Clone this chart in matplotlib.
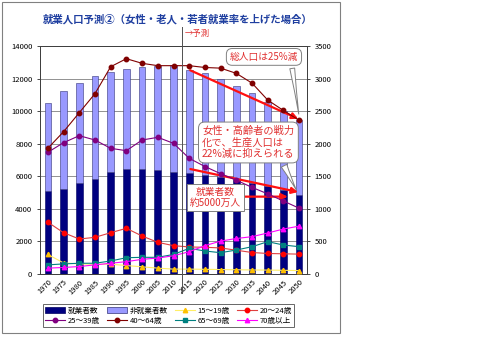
import numpy as np
import matplotlib
matplotlib.use('Agg')
import matplotlib.pyplot as plt
from matplotlib.patches import Rectangle, Patch

plt.rcParams['font.family'] = ['Noto Sans CJK JP', 'DejaVu Sans']

# データ（万人）
years = ['1970', '1975', '1980', '1985', '1990', '1995', '2000', '2005', '2010',
         '2015', '2020', '2025', '2030', '2035', '2040', '2045', '2050']
total = [10500, 11220, 11740, 12130, 12390, 12590, 12700, 12790, 12830,
         12530, 12320, 11970, 11550, 11090, 10550, 10020, 9460]
employed = [5110, 5230, 5560, 5830, 6280, 6460, 6460, 6360, 6260,
            6230, 6080, 5930, 5770, 5600, 5400, 5150, 4850]
age15_19 = [300, 170, 155, 150, 150, 130, 110, 90, 75, 75, 72, 68, 65, 62, 60, 57, 52]
age20_24 = [795, 634, 537, 563, 634, 701, 583, 486, 435, 415, 410, 400, 365, 330, 315, 310, 305]
age25_39 = [1868, 2016, 2123, 2057, 1929, 1893, 2057, 2098, 2006, 1776, 1650, 1540, 1440,
            1330, 1230, 1120, 1010]
age40_64 = [1930, 2184, 2476, 2768, 3182, 3305, 3234, 3198, 3198, 3198, 3170, 3160, 3080,
            2930, 2670, 2510, 2360]
age65_69 = [140, 155, 165, 165, 200, 250, 256, 256, 300, 394, 353, 327, 368, 419, 496, 445, 419]
age70 = [90, 100, 115, 140, 165, 190, 225, 245, 280, 342, 435, 505, 545, 573, 630, 690, 735]

x = np.arange(len(years))
not_employed = np.array(total) - np.array(employed)

fig = plt.figure(figsize=(5, 3.53), dpi=100)
ax = fig.add_axes([0.08, 0.2238, 0.534, 0.6459])
ax2 = ax.twinx()
ax.set_zorder(1)
ax2.set_zorder(2)
ax2.patch.set_visible(False)

w = 0.42
ax.bar(x, employed, w, color='#000080', edgecolor='#000060', lw=0.4, zorder=3)
ax.bar(x, not_employed, w, bottom=employed, color='#9999FF', edgecolor='#333377',
       lw=0.4, zorder=3)

ax.set_xlim(-0.5, len(years) - 0.5)
ax.set_ylim(0, 14000)
ax.set_yticks(range(0, 14001, 2000))
ax.yaxis.grid(True, color='#808080', lw=0.6, zorder=0)
ax.set_xticks(x)
ax.set_xticklabels(years, rotation=45, ha='right', rotation_mode='anchor', fontsize=5.5)
ax.tick_params(axis='both', labelsize=5.5, length=2, width=0.5)
ax.tick_params(axis='x', length=0, pad=3)

ax2.set_ylim(0, 3500)
ax2.set_yticks(range(0, 3501, 500))
ax2.tick_params(axis='y', labelsize=5.5, length=2, width=0.5)
for a in (ax, ax2):
    for s in a.spines.values():
        s.set_color('#404040')
        s.set_linewidth(0.7)

series = [
    (age15_19, '15～19歳', '#FFEE66', '^', '#FFC000'),
    (age20_24, '20～24歳', '#E04040', 'o', '#FF0000'),
    (age25_39, '25～39歳', '#800080', 'o', '#800080'),
    (age40_64, '40～64歳', '#800000', 'o', '#800000'),
    (age65_69, '65～69歳', '#008080', 's', '#008080'),
    (age70, '70歳以上', '#FF00FF', '^', '#FF00FF'),
]
handles = {}
for vals, name, lc, mk, mc in series:
    ms = 3.2 if mk != 's' else 2.6
    ln, = ax2.plot(x, vals, color=lc, lw=0.8, marker=mk, ms=ms, mfc=mc, mec=mc, zorder=4)
    handles[name] = ln

# 予測の区切り線
ax2.plot([8.55, 8.55], [-0.083, 1.083], color='#505050', lw=0.7,
         transform=ax2.get_xaxis_transform(), clip_on=False, zorder=5)
ax2.text(8.7, 1.055, '→予測', color='#E03030', fontsize=6, ha='left', va='center',
         transform=ax2.get_xaxis_transform())

# 赤い矢印
arrow_red = dict(arrowstyle='-|>', color='#FF1010', lw=1.6, mutation_scale=9)
ax.annotate('', xy=(16.1, total[16]), xytext=(8.9, total[9] + 50),
            arrowprops=arrow_red, zorder=6)
ax.annotate('', xy=(16.1, employed[16] + 150), xytext=(8.9, employed[9] + 250),
            arrowprops=arrow_red, zorder=6)

bbox_round = dict(boxstyle='round,pad=0.35,rounding_size=0.6', fc='white', ec='#808080', lw=0.7)
ax.annotate('総人口は25%減', xy=(16.0, 9650), xytext=(13.76, 13330),
            fontsize=7, color='#E03030', ha='center', va='center', bbox=bbox_round,
            arrowprops=dict(arrowstyle='wedge,tail_width=0.5,shrink_factor=0.4',
                            fc='white', ec='#808080', lw=0.7, relpos=(0.9, 0.0)),
            zorder=7, annotation_clip=False)
ax.annotate('女性・高齢者の戦力\n化で、生産人口は\n22%減に抑えられる', xy=(15.9, 5000),
            xytext=(12.77, 8075), fontsize=7.4, color='#E03030', ha='center', va='center',
            multialignment='left', linespacing=1.2, bbox=bbox_round,
            arrowprops=dict(arrowstyle='wedge,tail_width=0.6,shrink_factor=0.4',
                            fc='white', ec='#808080', lw=0.7, relpos=(0.85, 0.0)),
            zorder=7, annotation_clip=False)

ax.annotate('', xy=(15.45, 4750), xytext=(12.3, 4750), arrowprops=arrow_red, zorder=6)
ax.text(10.66, 4700, '就業者数\n約5000万人', fontsize=7, color='#E03030', ha='center',
        va='center', linespacing=1.2, zorder=8,
        bbox=dict(boxstyle='square,pad=0.3', fc='white', ec='#808080', lw=0.7))

# タイトル
fig.text(0.086, 0.945, '就業人口予測②（女性・老人・若者就業率を上げた場合）',
         fontsize=7.5, color='#1F3FA0', fontweight='bold', ha='left', va='center')

# 凡例
lh = [Patch(fc='#000080', ec='#000060', lw=0.5), handles['25～39歳'],
      Patch(fc='#9999FF', ec='#333377', lw=0.5), handles['40～64歳'],
      handles['15～19歳'], handles['65～69歳'],
      handles['20～24歳'], handles['70歳以上']]
ll = ['就業者数', '25～39歳', '非就業者数', '40～64歳', '15～19歳', '65～69歳',
      '20～24歳', '70歳以上']
leg = fig.legend(lh, ll, ncol=4, loc='center', bbox_to_anchor=(0.337, 0.106),
                 fontsize=5.5, frameon=True, fancybox=False, edgecolor='#404040',
                 handlelength=2.6, handleheight=0.7, columnspacing=1.0,
                 labelspacing=0.25, borderpad=0.3, handletextpad=0.3)
leg.get_frame().set_linewidth(0.7)

# 外枠
fig.patches.append(Rectangle((0.004, 0.057), 0.676, 0.937, transform=fig.transFigure,
                             fill=False, ec='#808080', lw=0.8))

fig.savefig('out.png', dpi=100)
